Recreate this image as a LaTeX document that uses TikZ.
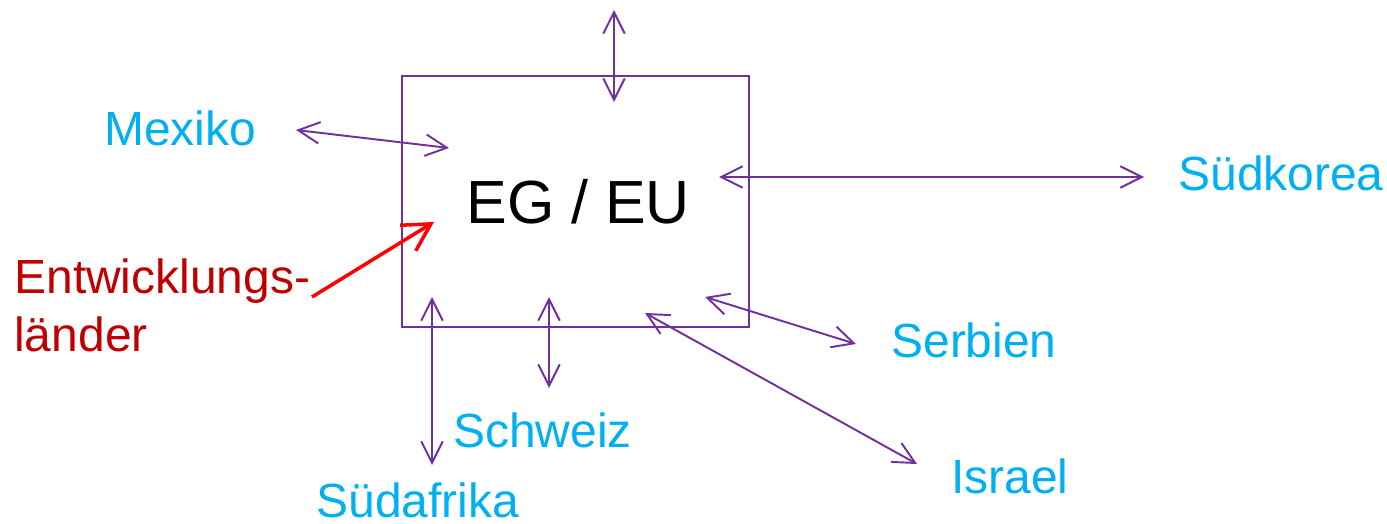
\documentclass[tikz,border=0pt]{standalone}
\usepackage{fontspec}
\setmainfont{Liberation Sans}
\usepackage{xcolor}
\definecolor{lila}{HTML}{7030A0}
\definecolor{land}{HTML}{00B0F0}
\definecolor{dunkelrot}{HTML}{C00000}
\usetikzlibrary{arrows.meta}

\begin{document}
\begin{tikzpicture}[
  x=0.02cm,
  y=-0.02cm,
  land/.style={anchor=base west, inner sep=0pt, text=land, font=\fontsize{27.3}{33}\selectfont},
  bund/.style={draw=lila, line width=0.9pt},
  link/.style={lila, line width=1.1pt, {Straight Barb[length=4.3mm,width=4.3mm]}-{Straight Barb[length=4.3mm,width=4.3mm]}},
  hilfe/.style={red, line width=2pt, -{Straight Barb[length=5.4mm,width=6mm]}},
]
\useasboundingbox (0,0) rectangle (1387,524);

% Gemeinschaft
\draw[bund] (402,76) rectangle (749,327);
\node[anchor=base west, inner sep=0pt, font=\fontsize{34.7}{40}\selectfont] (eu) at (466,223) {EG / EU};

% Partner
\node[land] (mexiko) at (104,145) {Mexiko};
\node[land] (korea) at (1178,190) {Südkorea};
\node[land] (serbien) at (891,357) {Serbien};
\node[land] (schweiz) at (453,447) {Schweiz};
\node[land] (israel) at (951,493) {Israel};
\node[land, text depth=0pt] (afrika) at (316,517) {Südafrika};
\node[land, text=dunkelrot, anchor=north west, align=left] (entw) at (14,258) {Entwicklungs-\\länder};

% Pfeilenden
\coordinate (o1) at (614,10);   \coordinate (o2) at (614,102);
\coordinate (mx1) at (296,130); \coordinate (mx2) at (449,148);
\coordinate (kr1) at (719,177); \coordinate (kr2) at (1144,177);
\coordinate (se1) at (705,297); \coordinate (se2) at (856,344);
\coordinate (is1) at (645,313); \coordinate (is2) at (917,464);
\coordinate (sw1) at (549,297); \coordinate (sw2) at (549,388);
\coordinate (sa1) at (432,297); \coordinate (sa2) at (432,465);
\coordinate (ew1) at (312,297); \coordinate (ew2) at (434,222);

% Beziehungen
\foreach \a/\b in {o1/o2,mx1/mx2,kr1/kr2,se1/se2,is1/is2,sw1/sw2,sa1/sa2}
  \draw[link] (\a) -- (\b);
\draw[hilfe] (ew1) -- (ew2);

\end{tikzpicture}
\end{document}
